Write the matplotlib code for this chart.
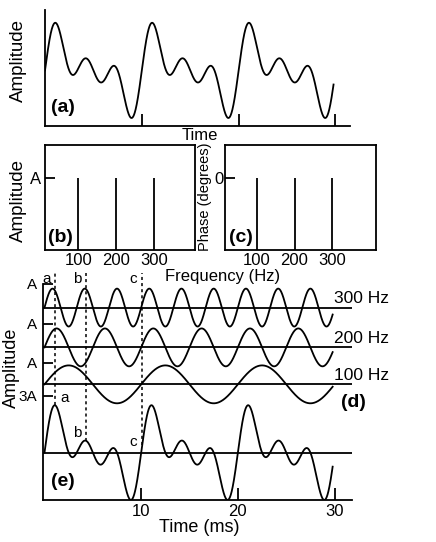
import numpy as np
import matplotlib
matplotlib.use('Agg')
import matplotlib.pyplot as plt

plt.rcParams['font.family'] = ['Liberation Sans', 'DejaVu Sans']

W, H = 436, 542

# ---------------- data ----------------
freqs = [100, 200, 300]          # Hz (components)
amps = [1.0, 1.0, 1.0]           # amplitude, in units of A
phases = [0, 0, 0]               # degrees
freq_tick_labels = ['100', '200', '300']
time_ticks = [10, 20, 30]        # ms
time_tick_labels = ['10', '20', '30']
t_end = 29.8                     # ms, length of drawn waveform
markers = ['a', 'b', 'c']
marker_times = [1.1, 4.3, 10.1]  # ms
amp_tick_labels = ['A', 'A', 'A', '3A']

# ---------------- waveforms ----------------
t = np.linspace(0, t_end, 3000)
comps = {f: a * np.sin(2 * np.pi * f * t / 1000.0 + np.deg2rad(p))
         for f, a, p in zip(freqs, amps, phases)}
total = sum(comps.values())

def total_at(tm):
    return sum(a * np.sin(2 * np.pi * f * tm / 1000.0 + np.deg2rad(p))
               for f, a, p in zip(freqs, amps, phases))

fig = plt.figure(figsize=(W / 100, H / 100), dpi=100)

def px_axes(l, t_, r, b):
    return fig.add_axes([l / W, 1 - b / H, (r - l) / W, (b - t_) / H])

def ftext(x, y, s, **kw):
    fig.text(x / W, 1 - y / H, s, ha=kw.pop('ha', 'center'),
             va=kw.pop('va', 'center'), **kw)

LW = 1.3

# ---------------- panel (a) ----------------
axa = px_axes(45, 10, 350, 126)
axa.plot(t, total, color='k', lw=LW)
axa.set_xlim(0, 31.5)
axa.set_ylim(-2.92, 3.17)
axa.spines[['top', 'right']].set_visible(False)
axa.spines[['left', 'bottom']].set_linewidth(LW)
axa.set_xticks(time_ticks)
axa.set_xticklabels([])
axa.tick_params(axis='x', direction='in', length=9, width=LW)
axa.set_yticks([])
ftext(18, 61, 'Amplitude', rotation=90, fontsize=13.5)
ftext(63, 107, '(a)', fontsize=14, fontweight='bold')
ftext(200, 135, 'Time', fontsize=12)

# ---------------- panel (b) ----------------
axb = px_axes(45, 145, 195, 250)
axb.vlines(freqs, 0, amps, color='k', lw=LW)
axb.set_xlim(12, 409)
axb.set_ylim(0, 1.464)
axb.set_yticks([1])
axb.set_yticklabels(['A'], fontsize=12)
axb.set_xticks(freqs)
axb.set_xticklabels(freq_tick_labels, fontsize=12)
axb.tick_params(axis='y', direction='in', length=7, width=LW, pad=3)
axb.tick_params(axis='x', length=0, pad=2)
for s in axb.spines.values():
    s.set_linewidth(LW)
ftext(18, 200, 'Amplitude', rotation=90, fontsize=13.5)
ftext(60, 237, '(b)', fontsize=14, fontweight='bold')

# ---------------- panel (c) ----------------
axc = px_axes(225, 145, 376, 250)
axc.vlines(freqs, -90, phases, color='k', lw=LW)
axc.set_xlim(16, 415.6)
axc.set_ylim(-90, 41.25)
axc.set_yticks([0])
axc.set_yticklabels(['0'], fontsize=12)
axc.set_xticks(freqs)
axc.set_xticklabels(freq_tick_labels, fontsize=12)
axc.tick_params(axis='y', direction='in', length=7, width=LW, pad=1)
axc.tick_params(axis='x', length=0, pad=2)
for s in axc.spines.values():
    s.set_linewidth(LW)
ftext(205, 197, 'Phase (degrees)', rotation=90, fontsize=10.5)
ftext(241, 237, '(c)', fontsize=14, fontweight='bold')
ftext(223, 276, 'Frequency (Hz)', fontsize=12)

# ---------------- panels (d) and (e) ----------------
axd = px_axes(43, 272.5, 351.5, 500)
axd.set_xlim(-0.155, 31.75)
axd.set_ylim(-2.5, 9.5)
offsets = {300: 7.65, 200: 5.55, 100: 3.6}
for f in freqs:
    off = offsets[f]
    axd.plot(t, off + comps[f], color='k', lw=LW)
    axd.axhline(off, color='k', lw=LW)
    axd.text(29.95, off + 0.47, f'{f} Hz', ha='left', va='center',
             fontsize=12.5, clip_on=False)
axd.plot(t, total, color='k', lw=LW)
axd.axhline(0, color='k', lw=LW)

label_dx = [0.95, -0.95, -0.9]
label_dy = [0.4, 0.4, 0.2]
for m, tm, dx, dy in zip(markers, marker_times, label_dx, label_dy):
    ye = total_at(tm)
    axd.plot([tm, tm], [ye, 9.5], color='k', lw=1.1, ls=(0, (2, 2)))
    axd.text(tm - 0.9, 9.15, m, ha='center', va='center', fontsize=11)
    axd.text(tm + dx, ye + dy, m, ha='center', va='center', fontsize=11)

axd.spines[['top', 'right']].set_visible(False)
axd.spines[['left', 'bottom']].set_linewidth(LW)
axd.spines['left'].set_bounds(-2.5, 8.9)
axd.set_yticks([8.9, 6.8, 4.75, 3.0])
axd.set_yticklabels(amp_tick_labels, fontsize=11)
axd.tick_params(axis='y', direction='in', length=7, width=LW, pad=4)
axd.set_xticks(time_ticks)
axd.set_xticklabels(time_tick_labels, fontsize=12)
axd.tick_params(axis='x', direction='in', length=9, width=LW, pad=3)
axd.text(31.9, 2.63, '(d)', ha='center', va='center', fontsize=14,
         fontweight='bold', clip_on=False)
axd.text(1.9, -1.53, '(e)', ha='center', va='center', fontsize=14,
         fontweight='bold')
ftext(11, 368, 'Amplitude', rotation=90, fontsize=13)
ftext(199, 528, 'Time (ms)', fontsize=13)

fig.savefig('out.png', dpi=100)
